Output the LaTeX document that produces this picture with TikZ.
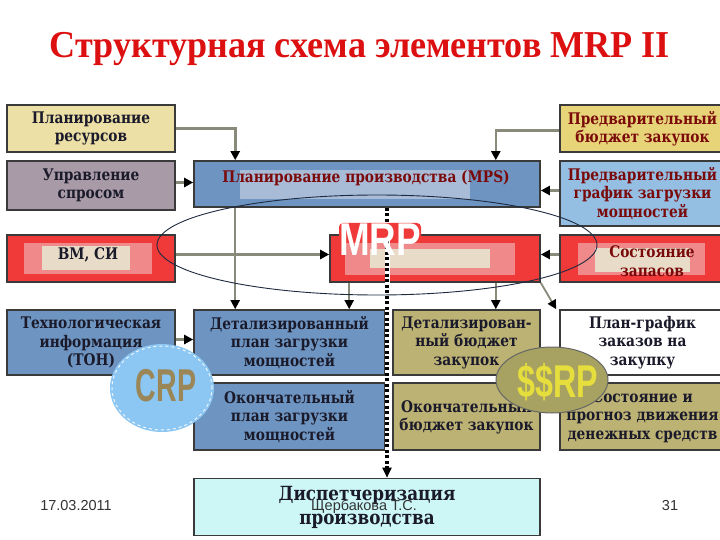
\documentclass[tikz,border=0pt]{standalone}
\usepackage{fontspec}
\setmainfont{Liberation Serif}
\newfontfamily\bxf[FakeStretch=0.86]{DejaVu Serif}
\newfontfamily\lsans{Liberation Sans}
\usetikzlibrary{arrows.meta,calc}
\definecolor{cres}{HTML}{EDE0A6}
\definecolor{cdem}{HTML}{A89AA6}
\definecolor{cred}{HTML}{F03A3A}
\definecolor{cpink}{HTML}{F08A8A}
\definecolor{cpale}{HTML}{E8DCC8}
\definecolor{cblue}{HTML}{6E94C2}
\definecolor{cbluel}{HTML}{A8BCD8}
\definecolor{cpbz}{HTML}{E8D478}
\definecolor{cpgz}{HTML}{94BEE2}
\definecolor{colive}{HTML}{BCB274}
\definecolor{cdisp}{HTML}{CDF6F6}
\definecolor{boxborder}{HTML}{3A3A3A}
\definecolor{conncol}{HTML}{8A8A7A}
\definecolor{textdark}{HTML}{1A1A2A}
\definecolor{textbrown}{HTML}{7A0A0A}
\definecolor{titlered}{HTML}{DC1010}
\definecolor{crpfill}{HTML}{8CC6F2}
\definecolor{crptext}{HTML}{9A8656}
\definecolor{ssfill}{HTML}{A8A262}
\definecolor{sstext}{HTML}{E6DE3C}
\definecolor{ellcol}{HTML}{1E2A40}
\tikzset{
  box/.style={draw=boxborder, line width=1.6pt, align=center, inner sep=0pt,
    font=\bxf\bfseries\fontsize{16}{18.5}\selectfont, text=textdark},
  boxtext/.style={font=\bxf\bfseries\fontsize{16}{18.5}\selectfont, align=center, inner sep=0pt},
  conn/.style={draw=conncol, line width=2.6pt,
    -{Triangle[color=black,length=9pt,width=9pt]}},
  thinconn/.style={draw=conncol, line width=1.8pt,
    -{Triangle[color=black,length=9pt,width=9pt]}},
  biglbl/.style={font=\lsans\bfseries\fontsize{46}{46}\selectfont, inner sep=0pt},
  foot/.style={font=\lsans\fontsize{14.5}{14.5}\selectfont, text=black!80, inner sep=0pt}
}
\begin{document}
\begin{tikzpicture}[x=1pt,y=-1pt]
\clip (0,0) rectangle (720,540);
\fill[white] (0,0) rectangle (720,540);

% title
\node[font=\bfseries\fontsize{38}{38}\selectfont, text=titlered, xscale=0.95] (title) at (360,49) {Структурная схема элементов MRP II};

% left column
\node[box, fill=cres, minimum width=168pt, minimum height=47pt] (res) at (91,128.5) {Планирование\\ресурсов};
\node[box, fill=cdem, minimum width=168pt, minimum height=49pt] (dem) at (91,185.5) {Управление\\спросом};
\node[box, fill=cred, minimum width=168pt, minimum height=47pt] (bm) at (91,258.5) {};
\fill[cpink] (24,243) rectangle (152,274);
\fill[cpale] (42,246) rectangle (130,270);
\node[boxtext, text=textdark] (bmt) at (88,255) {ВМ, СИ};
\node[box, fill=cblue, minimum width=168pt, minimum height=65pt] (ton) at (91,342.5) {Технологическая\\информация\\(ТОН)};

% middle
\node[box, fill=cblue, minimum width=346pt, minimum height=46pt] (mps) at (367,184) {};
\fill[cbluel] (240,170) rectangle (470,199);
\node[boxtext, text=textbrown] (mpst) at (366,178) {Планирование производства (MPS)};
\node[box, fill=cred, minimum width=210pt, minimum height=47pt] (mrp) at (435,258.5) {};
\fill[cpink] (345,243) rectangle (515,275);
\fill[cpale] (370,249) rectangle (490,268);
\node[box, fill=cblue, minimum width=191pt, minimum height=65pt] (dpl) at (289.5,342.5) {Детализированный\\план загрузки\\мощностей};
\node[box, fill=colive, minimum width=147pt, minimum height=65pt] (dbz) at (466.5,342.5) {Детализирован-\\ный бюджет\\закупок};
\node[box, fill=cblue, minimum width=191pt, minimum height=67pt] (opl) at (289.5,416.5) {Окончательный\\план загрузки\\мощностей};
\node[box, fill=colive, minimum width=147pt, minimum height=67pt] (obz) at (466.5,416.5) {Окончательный\\бюджет закупок};
\node[box, fill=cdisp, minimum width=346pt, minimum height=57pt, font=\bxf\bfseries\fontsize{19.5}{24}\selectfont] (disp) at (367,507) {Диспетчеризация\\производства};

% right column
\node[box, fill=cpbz, minimum width=165pt, minimum height=47pt, text=textbrown] (pbz) at (642.5,128.5) {Предварительный\\бюджет закупок};
\node[box, fill=cpgz, minimum width=165pt, minimum height=65pt, text=textbrown] (pgz) at (642.5,193.5) {Предварительный\\график загрузки\\мощностей};
\node[box, fill=cred, minimum width=165pt, minimum height=47pt] (zap) at (642.5,258.5) {};
\fill[cpink] (578,243) rectangle (705,275);
\fill[cpale] (595,248) rectangle (690,272);
\node[boxtext, text=textbrown] (zapt) at (652,261) {Состояние\\запасов};
\node[box, fill=white, minimum width=165pt, minimum height=65pt] (ppz) at (642.5,342.5) {План-график\\заказов на\\закупку};
\node[box, fill=colive, minimum width=165pt, minimum height=67pt] (sdd) at (642.5,416.5) {Состояние и\\прогноз движения\\денежных средств};

% connectors
\draw[conn] (res.east) -| ([xshift=42pt]mps.north west);
\draw[conn] ([yshift=-2pt]pbz.west) -| ([xshift=-45pt]mps.north east);
\draw[conn] ([yshift=3pt]dem.east) -- ([yshift=3pt]dem.east -| mps.west);
\draw[conn] ([yshift=3pt]pgz.west) -- ([yshift=3pt]pgz.west -| mps.east);
\draw[conn] ([yshift=4pt]bm.east) -- ([yshift=4pt]bm.east -| mrp.west);
\draw[conn] ([yshift=4pt]zap.west) -- ([yshift=4pt]zap.west -| mrp.east);
\draw[thinconn] ([xshift=42pt]mps.south west) -- ([xshift=42pt]dpl.north west);
\draw[thinconn] ([xshift=20pt]mrp.south west) -- ([xshift=20pt]mrp.south west |- dpl.north);
\draw[thinconn] ([xshift=-45pt]mrp.south east) -- ([xshift=-45pt]mrp.south east |- dbz.north);
\draw[thinconn] (mrp.south east) -- ([xshift=-3pt]ppz.north west);
\draw[conn] ([yshift=3pt]ton.east) -- ([yshift=3pt]ton.east -| dpl.west);

% dotted line
\draw[white, line width=5pt] ([xshift=20pt]mps.south) -- ([xshift=20pt,yshift=12pt]disp.north);
\draw[black, line width=3.5pt, dash pattern=on 3pt off 2.5pt] ([xshift=20pt]mps.south) -- ([xshift=20pt,yshift=10pt]disp.north);
\draw[black, line width=2pt, -{Triangle[color=black,length=10pt,width=9pt]}] ([xshift=20pt,yshift=12pt]disp.north) -- ([xshift=20pt]disp.north);

% MRP label
\fill[cred, rounded corners=4pt] (339,223) rectangle (421,240);
\node[biglbl, text=white, xscale=0.8] (mrplbl) at (380,240) {MRP};

% big ellipse
\draw[ellcol, line width=0.9pt] (377,245) ellipse [x radius=220pt, y radius=50pt];

% CRP
\fill[crpfill] (162,388) ellipse [x radius=52pt, y radius=44pt];
\draw[white!85!crpfill, line width=1pt, dashed] (162,388) ellipse [x radius=50pt, y radius=42pt];
\node[biglbl, text=crptext, xscale=0.62] (crp) at (166,386) {CRP};

% $$RP
\filldraw[fill=ssfill, draw=black!60, line width=1pt] (552,380) ellipse [x radius=56pt, y radius=33pt];
\node[biglbl, text=sstext, xscale=0.7] (ssrp) at (558,382) {\$\$RP};

% footer
\node[foot] (date) at (76,506) {17.03.2011};
\node[foot] (auth) at (364,507) {Щербакова Т.С.};
\node[foot] (page) at (670,506) {31};
\end{tikzpicture}
\end{document}
